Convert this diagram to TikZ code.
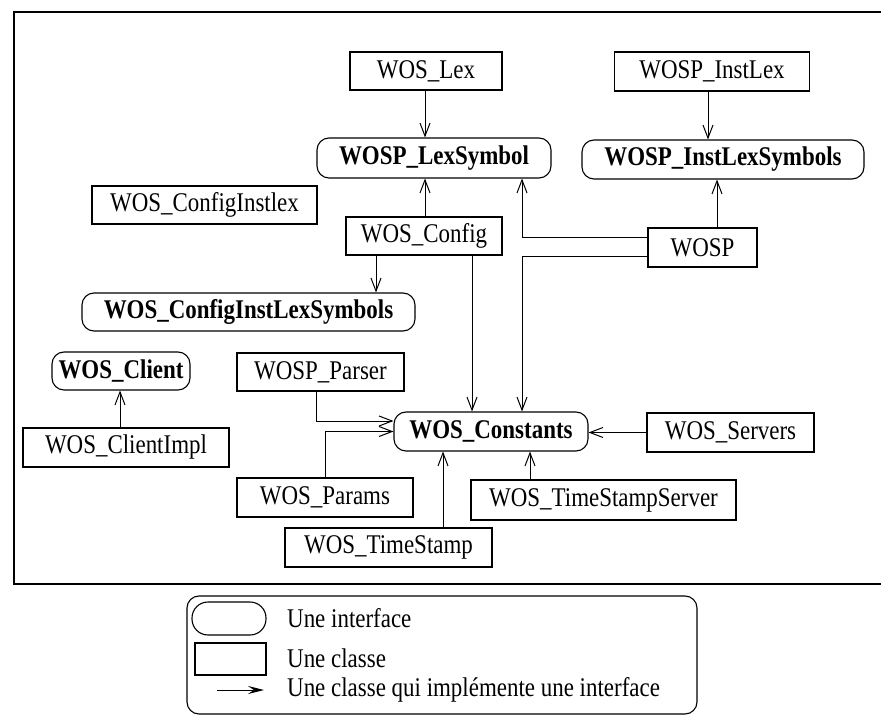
\documentclass[tikz,border=0pt]{standalone}
\usepackage{fontspec}
\setmainfont{Liberation Serif}[FakeStretch=0.85]
\usetikzlibrary{arrows.meta}

\tikzset{
  x=1pt, y=-1pt,
  txt/.style={font=\fontsize{27}{30}\selectfont},
  cls/.style={draw, line width=1.1pt, fill=white, inner sep=0pt, txt},
  intf/.style={cls, rounded corners=12pt, font=\fontsize{27}{30}\selectfont\bfseries},
  impl/.style={line width=1pt, -{Straight Barb[length=13pt,width=10pt,line width=1pt]}},
  frameline/.style={line width=1.3pt}
}

\begin{document}
\begin{tikzpicture}
\useasboundingbox (0,0) rectangle (881,719);

% outer frame, open on the right
\draw[frameline] (881,12) -- (14,12) -- (14,584) -- (881,584);

% interfaces
\node[intf, minimum width=234, minimum height=40] (lexsym)  at (434,158)   {WOSP\_LexSymbol};
\node[intf, minimum width=282, minimum height=39] (instsym) at (723,159.5) {WOSP\_InstLexSymbols};
\node[intf, minimum width=333, minimum height=38] (cfgils)  at (248.5,312) {WOS\_ConfigInstLexSymbols};
\node[intf, minimum width=138, minimum height=38] (client)  at (121,371)   {WOS\_Client};
\node[intf, minimum width=194, minimum height=39] (consts)  at (491,431.5) {WOS\_Constants};

% classes
\node[cls, minimum width=152, minimum height=38] (lex)      at (426,71)    {WOS\_Lex};
\node[cls, minimum width=195, minimum height=39] (instlex)  at (712,71.5)  {WOSP\_InstLex};
\node[cls, minimum width=225, minimum height=38] (cfgil)    at (204.5,205) {WOS\_ConfigInstlex};
\node[cls, minimum width=156, minimum height=38] (config)   at (424,236)   {WOS\_Config};
\node[cls, minimum width=109, minimum height=39] (wosp)     at (702.5,247.5) {WOSP};
\node[cls, minimum width=206, minimum height=39] (cimpl)    at (126,447.5) {WOS\_ClientImpl};
\node[cls, minimum width=167, minimum height=38] (parser)   at (320.5,372) {WOSP\_Parser};
\node[cls, minimum width=167, minimum height=39] (servers)  at (730.5,432.5) {WOS\_Servers};
\node[cls, minimum width=176, minimum height=39] (params)   at (325,497.5) {WOS\_Params};
\node[cls, minimum width=265, minimum height=40] (tss)      at (603.5,500) {WOS\_TimeStampServer};
\node[cls, minimum width=207, minimum height=39] (tstamp)   at (388.5,547.5) {WOS\_TimeStamp};

% x positions of the vertical connectors
\coordinate (xlex)   at (425,0);
\coordinate (xinst)  at (708,0);
\coordinate (xwosp)  at (522,0);
\coordinate (xwsym)  at (717,0);
\coordinate (xcfc)   at (472,0);
\coordinate (xcfs)   at (376,0);
\coordinate (xcli)   at (120,0);
\coordinate (xpar)   at (316,0);
\coordinate (xprm)   at (325,0);
\coordinate (xts)    at (443,0);
\coordinate (xtss)   at (530,0);

% implementation links
\draw[impl] (xlex |- lex.south) -- (xlex |- lexsym.north);
\draw[impl] (xinst |- instlex.south) -- (xinst |- instsym.north);
\draw[impl] (xlex |- config.north) -- (xlex |- lexsym.south);
\draw[impl] ([yshift=-10pt]wosp.north west) -| (xwosp |- lexsym.south);
\draw[impl] (xwsym |- wosp.north) -- (xwsym |- instsym.south);
\draw[impl] ([yshift=-29pt]wosp.north west) -| (xwosp |- consts.north);
\draw[impl] (xcfc |- config.south) -- (xcfc |- consts.north);
\draw[impl] (xcfs |- config.south) -- (xcfs |- cfgils.north);
\draw[impl] (xcli |- cimpl.north) -- (xcli |- client.south);
\draw[impl] (xpar |- parser.south) |- ([yshift=10.5pt]consts.west);
\draw[impl] (xprm |- params.north) |- (consts.west);
\draw[impl] (xts |- tstamp.north) -- (xts |- consts.south);
\draw[impl] (xtss |- tss.north) -- (xtss |- consts.south);
\draw[impl] (servers.west) -- (servers.west -| consts.east);

% legend
\draw[line width=1.1pt, rounded corners=12pt] (187,596) rectangle (697,714);
\node[draw, line width=1.1pt, rounded corners=16pt, inner sep=0pt,
      minimum width=74, minimum height=33] (lgi) at (229,618.5) {};
\node[draw, line width=1.1pt, inner sep=0pt,
      minimum width=71, minimum height=32] (lgc) at (230.5,659) {};
\coordinate (lga) at (217,690);
\coordinate (lgb) at (264,690);
\draw[line width=1pt, -{Stealth[length=16pt,width=8pt,inset=6pt]}] (lga) -- (lgb);
\node[txt, anchor=west, inner sep=0pt] (lti) at (287,618) {Une interface};
\node[txt, anchor=west, inner sep=0pt] (ltc) at (287,658) {Une classe};
\node[txt, anchor=west, inner sep=0pt] (lta) at (287,690) {Une classe qui implémente une interface};
\end{tikzpicture}
\end{document}
